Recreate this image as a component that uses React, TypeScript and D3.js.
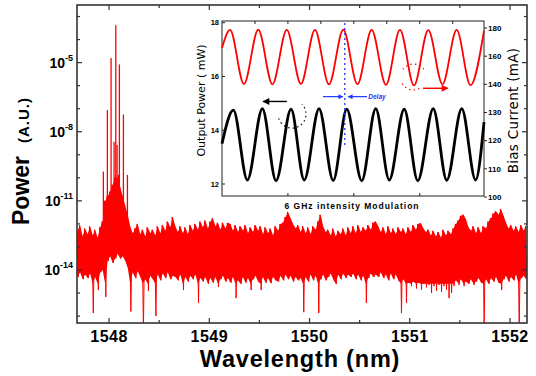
import React from 'react';
import * as d3 from 'd3';

// ---- main spectrum ----
const wlDomain = [1547.68, 1552.17];
const expDomain = [-16.3, -2.5]; // log10 of power (A.U.)
const xMajor = [1548, 1549, 1550, 1551, 1552];
const xMinor = [1548.5, 1549.5, 1550.5, 1551.5];
const yMajorExp = [-5, -8, -11, -14];
const yMinorExp = [-3, -4, -6, -7, -9, -10, -12, -13, -15, -16];

// noise floor, one bin every 0.025 nm from 1547.68: upper / lower envelope (log10)
const noiseStart = 1547.68;
const noiseStep = 0.025;
const noiseHi = [
  -12.3, -12.05, -12.55, -12.2, -12.45, -12.1, -12.5, -12.25, -12.6, -12.15,
  -11.9, -11.0, -10.8, -10.6, -10.3, -10.0, -10.0, -10.4, -10.8, -11.2, -11.6,
  -12.1, -12.4, -12.2, -12.0, -12.45, -12.25, -12.55, -12.15, -12.4,
  -12.25, -12.5, -12.1, -12.4, -12.05, -12.3, -11.9, -12.15, -11.7, -12.1,
  -12.35, -12.1, -12.4, -12.15, -12.45, -12.05, -12.3, -12.0, -12.25, -11.9,
  -12.15, -11.85, -12.2, -11.9, -11.75, -12.1, -11.95, -12.25, -11.95, -12.2,
  -11.95, -12.0, -12.3, -12.05, -12.35, -12.1, -12.3, -12.05, -12.4, -12.15,
  -12.35, -12.05, -12.3, -12.1, -12.45, -12.15, -12.4, -12.2, -12.5, -12.1,
  -12.3, -12.0, -11.95, -11.7, -11.48, -11.75, -12.0, -12.2, -12.05, -12.35,
  -12.1, -12.4, -12.15, -12.45, -12.1, -12.25, -11.9, -11.6, -12.1, -12.35,
  -12.25, -12.5, -12.2, -12.55, -12.3, -12.45, -12.2, -12.5, -12.15, -12.4,
  -12.1, -12.4, -12.05, -12.35, -12.15, -12.3, -12.05, -12.25, -11.95, -11.9,
  -12.1, -12.35, -12.15, -12.45, -12.1, -12.4, -12.2, -12.45, -12.15, -12.35,
  -12.2, -12.45, -12.15, -12.35, -12.05, -12.25, -12.0, -11.96, -12.2, -12.35,
  -12.25, -12.5, -12.3, -12.55, -12.35, -12.6, -12.25, -12.5, -12.3, -12.45,
  -12.2, -12.0, -11.85, -11.65, -11.6, -11.8, -12.15, -12.3, -12.1, -12.4,
  -12.15, -12.4, -12.1, -12.2, -11.9, -11.75, -11.55, -11.45, -11.6, -11.35,
  -11.65, -11.95, -12.2, -12.05, -12.3, -12.1, -12.35, -12.05, -12.3, -12.1,
];
const noiseLo = [
  -14.3, -14.1, -14.4, -14.2, -14.35, -14.15, -15.87, -14.3, -14.87, -14.1,
  -14.0, -15.17, -13.6, -13.4, -13.7, -13.5, -13.3, -13.5, -13.4, -13.6, -13.9,
  -15.8, -14.1, -14.35, -14.05, -14.3, -16.6, -14.4, -14.9, -14.25,
  -14.4, -16.0, -14.2, -14.45, -14.15, -14.35, -14.1, -14.4, -14.25, -14.3,
  -14.45, -14.2, -14.87, -14.3, -14.5, -14.25, -14.4, -14.2, -15.43, -14.35,
  -14.5, -14.3, -14.6, -14.35, -14.55, -14.3, -14.74, -14.4, -14.25, -14.5,
  -14.35, -14.55, -14.3, -15.22, -14.45, -14.6, -14.3, -14.55, -14.35, -14.87,
  -14.4, -14.25, -14.5, -14.87, -14.3, -14.55, -14.35, -14.57, -14.3, -14.45,
  -14.5, -14.25, -14.45, -14.2, -14.4, -14.25, -14.5, -14.3, -14.45, -14.35,
  -15.83, -14.3, -14.5, -14.2, -14.45, -14.25, -15.87, -14.4, -14.2, -14.45,
  -14.3, -14.15, -14.4, -14.6, -14.2, -14.4, -14.15, -14.35, -14.2, -14.3,
  -14.15, -14.4, -14.2, -14.45, -14.25, -15.43, -14.35, -14.15, -14.3, -14.2,
  -14.3, -14.1, -14.35, -14.2, -14.45, -14.15, -14.4, -14.2, -14.45, -15.87,
  -14.4, -15.43, -14.55, -14.7, -14.5, -14.8, -14.55, -14.85, -14.6, -14.75,
  -14.65, -15.0, -14.7, -14.9, -14.65, -14.95, -14.7, -14.85, -15.22, -15.0,
  -14.7, -14.45, -14.65, -14.4, -14.7, -14.5, -14.6, -14.4, -14.65, -14.5,
  -14.35, -14.55, -16.6, -14.4, -14.6, -14.35, -14.5, -14.3, -14.55, -14.87,
  -14.4, -14.25, -14.5, -14.3, -14.45, -14.2, -16.6, -14.35, -14.25, -14.4,
];

// lasing lines around 1548 nm
const combWl = [1547.943, 1547.983, 1548.01, 1548.02, 1548.05, 1548.067, 1548.08, 1548.093, 1548.103, 1548.12, 1548.143, 1548.183];
const combExp = [-9.73, -7.06, -10.81, -4.8, -8.43, -3.38, -8.58, -9.87, -5.08, -10.87, -7.25, -9.87];
const combBase = -13.0;

// ---- inset: 6 GHz modulation ----
const timeDomain = [0, 1.59]; // ns
const timeTicksTop = [0.2, 0.4, 0.6, 0.8, 1.0, 1.2, 1.4];
const timeTicksBottom = [0.4, 0.8, 1.2];
const powerDomain = [11.554, 18.063];
const powerTicks = [12, 14, 16, 18];
const biasTicks = [100, 110, 120, 130, 140, 160, 180];

const redT = [0, 0.049, 0.133, 0.22, 0.306, 0.393, 0.479, 0.564, 0.649, 0.736, 0.822, 0.908, 0.995, 1.08, 1.165, 1.252, 1.338, 1.424, 1.508, 1.59];
const redBias = [165.8, 178.6, 140.2, 178.8, 140.0, 178.6, 140.3, 178.7, 140.0, 178.9, 140.1, 178.6, 139.8, 178.7, 139.6, 178.5, 140.0, 178.6, 139.7, 178.2];
const blackT = [0, 0.069, 0.154, 0.245, 0.328, 0.419, 0.499, 0.589, 0.675, 0.757, 0.848, 0.933, 1.015, 1.106, 1.188, 1.282, 1.364, 1.455, 1.539, 1.59];
const blackPower = [13.5, 14.75, 12.15, 14.8, 12.12, 14.78, 12.15, 14.8, 12.13, 14.78, 12.12, 14.8, 12.15, 14.78, 12.12, 14.8, 12.14, 14.8, 12.15, 14.3];

const W = 536;
const H = 376;
const M = { left: 77, top: 5, right: 527, bottom: 323 };
const I = { left: 222, top: 21, right: 484, bottom: 196 };
const SANS = 'Liberation Sans, Arial, sans-serif';
const DEJA = 'DejaVu Sans, sans-serif';
const RED = '#ff0000';
const BLUE = '#2038ff';

export default function App() {
  const x = d3.scaleLinear().domain(wlDomain).range([M.left, M.right]);
  const y = d3.scaleLog().domain(expDomain.map(e => 10 ** e)).range([M.bottom, M.top]);
  const ye = (e: number) => y(10 ** e);

  const wlAt = (i: number) => noiseStart + i * noiseStep;
  const noisePts: [number, number][] = [];
  noiseHi.forEach((h, i) => {
    noisePts.push([wlAt(i), h]);
    noisePts.push([wlAt(i) + noiseStep / 2, noiseLo[i]]);
  });
  const noiseLine = d3.line<[number, number]>().x(d => x(d[0])).y(d => ye(d[1]));
  // solid core of the band; the deep dips are left to the thin trace
  const noiseArea = d3.area<number>()
    .x((_, i) => x(wlAt(i) + noiseStep / 4))
    .y0((_, i) => ye(Math.max(noiseLo[i], -14.6)))
    .y1(d => ye(d));

  const xt = d3.scaleLinear().domain(timeDomain).range([I.left, I.right]);
  const yPow = d3.scaleLinear().domain(powerDomain).range([I.bottom, I.top]);
  const biasIdx = d3.scaleLinear().domain([0, biasTicks.length - 1]).range([I.bottom + 1, I.top + 7]);
  const yBias = d3.scaleLinear().domain(biasTicks).range(biasTicks.map((_, i) => biasIdx(i)));

  const redLine = d3.line<number>().x((_, i) => xt(redT[i])).y(d => yBias(d)).curve(d3.curveMonotoneX);
  const blackLine = d3.line<number>().x((_, i) => xt(blackT[i])).y(d => yPow(d)).curve(d3.curveMonotoneX);

  const arcPath = (cx: number, cy: number, r: number, a0: number, a1: number, ccw = false) => {
    const p = d3.path();
    p.arc(cx, cy, r, a0, a1, ccw);
    return p.toString();
  };

  const blackCircle = { t: 0.425, p: 14.6, r: 14 };
  const redCircle = { t: 1.162, b: 145.2, r: 13 };
  const delayY = yPow(15.25);

  return (
    <svg width={W} height={H} style={{ position: 'absolute', left: 0, top: 0, background: '#fff' }}>
      <defs>
        <clipPath id="plotClip">
          <rect x={M.left} y={M.top} width={M.right - M.left} height={M.bottom - M.top} />
        </clipPath>
        <marker id="ahBlack" viewBox="0 0 10 10" refX="9" refY="5" markerWidth="8" markerHeight="7" orient="auto" markerUnits="userSpaceOnUse">
          <path d="M0,0L10,5L0,10z" fill="#000" />
        </marker>
        <marker id="ahRed" viewBox="0 0 10 10" refX="9" refY="5" markerWidth="8" markerHeight="7" orient="auto" markerUnits="userSpaceOnUse">
          <path d="M0,0L10,5L0,10z" fill={RED} />
        </marker>
        <marker id="ahBlue" viewBox="0 0 10 10" refX="9" refY="5" markerWidth="5" markerHeight="5" orient="auto" markerUnits="userSpaceOnUse">
          <path d="M0,0L10,5L0,10z" fill={BLUE} />
        </marker>
      </defs>

      {/* spectrum */}
      <g clipPath="url(#plotClip)">
        <path d={noiseArea(noiseHi) || ''} fill={RED} stroke="none" />
        <path d={noiseLine(noisePts) || ''} fill="none" stroke={RED} strokeWidth={1} />
        {combWl.map((w, i) => (
          <line key={i} x1={x(w)} x2={x(w)} y1={ye(combBase)} y2={ye(combExp[i])} stroke={RED} strokeWidth={1.3} />
        ))}
      </g>

      {/* main frame + ticks */}
      <rect x={M.left} y={M.top} width={M.right - M.left} height={M.bottom - M.top} fill="none" stroke="#333" strokeWidth={1.6} />
      {xMajor.map(v => (
        <g key={'xM' + v}>
          <line x1={x(v)} x2={x(v)} y1={M.bottom} y2={M.bottom - 5} stroke="#333" strokeWidth={1.2} />
          <line x1={x(v)} x2={x(v)} y1={M.top} y2={M.top + 5} stroke="#333" strokeWidth={1.2} />
          <text x={x(v)} y={342} textAnchor="middle" fontFamily={SANS} fontWeight="bold" fontSize={16} letterSpacing={0.5}>{v}</text>
        </g>
      ))}
      {xMinor.map(v => (
        <g key={'xm' + v}>
          <line x1={x(v)} x2={x(v)} y1={M.bottom} y2={M.bottom - 3} stroke="#333" strokeWidth={1.2} />
          <line x1={x(v)} x2={x(v)} y1={M.top} y2={M.top + 3} stroke="#333" strokeWidth={1.2} />
        </g>
      ))}
      {yMajorExp.map(e => (
        <g key={'yM' + e}>
          <line x1={M.left} x2={M.left + 5} y1={ye(e)} y2={ye(e)} stroke="#333" strokeWidth={1.2} />
          <line x1={M.right} x2={M.right - 5} y1={ye(e)} y2={ye(e)} stroke="#333" strokeWidth={1.2} />
          <text x={73} y={ye(e) + 5} textAnchor="end" fontFamily={SANS} fontWeight="bold" fontSize={14}>
            10<tspan dy={-7} fontSize={9}>{e}</tspan>
          </text>
        </g>
      ))}
      {yMinorExp.map(e => (
        <g key={'ym' + e}>
          <line x1={M.left} x2={M.left + 3} y1={ye(e)} y2={ye(e)} stroke="#333" strokeWidth={1.2} />
          <line x1={M.right} x2={M.right - 3} y1={ye(e)} y2={ye(e)} stroke="#333" strokeWidth={1.2} />
        </g>
      ))}
      <text x={300} y={367} textAnchor="middle" fontFamily={SANS} fontWeight="bold" fontSize={23.5} letterSpacing={0.8}>Wavelength (nm)</text>
      <text transform="translate(29,225) rotate(-90)" fontFamily={SANS} fontWeight="bold" fontSize={23}>
        Power<tspan dx={13} fontSize={15} letterSpacing={1}>(A.U.)</tspan>
      </text>

      {/* inset */}
      <rect x={I.left} y={I.top} width={I.right - I.left} height={I.bottom - I.top} fill="#fff" stroke="#222" strokeWidth={1} />
      {timeTicksTop.map(t => (
        <line key={'tt' + t} x1={xt(t)} x2={xt(t)} y1={I.top} y2={I.top + 3} stroke="#222" />
      ))}
      {timeTicksBottom.map(t => (
        <line key={'tb' + t} x1={xt(t)} x2={xt(t)} y1={I.bottom} y2={I.bottom - 3} stroke="#222" />
      ))}
      {powerTicks.map(p => (
        <g key={'p' + p}>
          <line x1={I.left} x2={I.left + 3} y1={yPow(p)} y2={yPow(p)} stroke="#222" />
          <text x={219} y={yPow(p) + 2.8} textAnchor="end" fontFamily={SANS} fontWeight="bold" fontSize={7.5}>{p}</text>
        </g>
      ))}
      {biasTicks.map(b => (
        <g key={'b' + b}>
          <line x1={I.right} x2={I.right + 3} y1={yBias(b)} y2={yBias(b)} stroke="#222" />
          <text x={488} y={yBias(b) + 2.8} fontFamily={SANS} fontWeight="bold" fontSize={8}>{b}</text>
        </g>
      ))}
      <text transform={`translate(205,${(I.top + I.bottom) / 2 - 8}) rotate(-90)`} textAnchor="middle" fontFamily={DEJA} fontSize={11}>Output Power ( mW)</text>
      <text transform={`translate(518,${(I.top + I.bottom) / 2 + 2}) rotate(-90)`} textAnchor="middle" fontFamily={DEJA} fontSize={13.5} letterSpacing={0.3}>Bias Current (mA)</text>
      <text x={352} y={209} textAnchor="middle" fontFamily={SANS} fontWeight="bold" fontSize={8.5} letterSpacing={1}>6 GHz intensity Modulation</text>

      <path d={redLine(redBias) || ''} fill="none" stroke={RED} strokeWidth={1.8} />
      <path d={blackLine(blackPower) || ''} fill="none" stroke="#000" strokeWidth={2.8} />

      {/* delay annotation */}
      <line x1={xt(0.745)} x2={xt(0.745)} y1={I.top + 2} y2={yPow(13.4)} stroke={BLUE} strokeWidth={1.3} strokeDasharray="2 3" />
      <line x1={xt(0.613)} x2={xt(0.734)} y1={delayY} y2={delayY} stroke={BLUE} strokeWidth={1.2} markerEnd="url(#ahBlue)" />
      <line x1={xt(0.88)} x2={xt(0.765)} y1={delayY} y2={delayY} stroke={BLUE} strokeWidth={1.2} markerEnd="url(#ahBlue)" />
      <text x={xt(0.888)} y={delayY + 2.5} fontFamily={SANS} fontWeight="bold" fontStyle="italic" fontSize={6.5} fill={BLUE}>Delay</text>

      {/* black: power -> left axis */}
      <path d={arcPath(xt(blackCircle.t), yPow(blackCircle.p), blackCircle.r, Math.PI * 0.9, -Math.PI * 0.25, true)} fill="none" stroke="#000" strokeWidth={1.1} strokeDasharray="1.5 3" />
      <line x1={xt(0.394)} x2={xt(0.249)} y1={yPow(15.07)} y2={yPow(15.07)} stroke="#000" strokeWidth={1.4} markerEnd="url(#ahBlack)" />

      {/* red: bias -> right axis */}
      <path d={arcPath(xt(redCircle.t), yBias(redCircle.b), redCircle.r, Math.PI * 1.2, Math.PI * 1.85)} fill="none" stroke={RED} strokeWidth={1.1} strokeDasharray="1.5 3" />
      <path d={arcPath(xt(redCircle.t), yBias(redCircle.b), redCircle.r, Math.PI * 0.35, Math.PI * 0.85)} fill="none" stroke={RED} strokeWidth={1.1} strokeDasharray="1.5 3" />
      <line x1={xt(1.22)} x2={xt(1.371)} y1={yBias(138.6)} y2={yBias(138.6)} stroke={RED} strokeWidth={1.4} markerEnd="url(#ahRed)" />
    </svg>
  );
}
